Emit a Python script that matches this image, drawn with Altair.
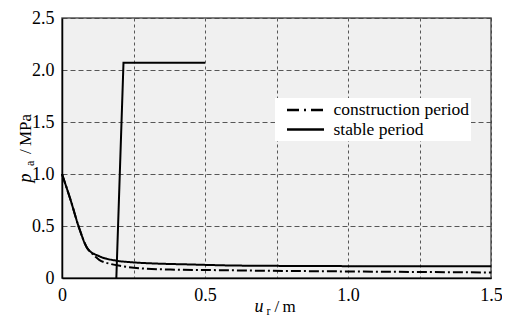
import altair as alt
import pandas as pd

# ---- data ----
cons_x = [0, 0.03, 0.06, 0.09, 0.10, 0.13, 0.17, 0.21, 0.29, 0.40, 0.50, 0.70, 1.00, 1.25, 1.50]
cons_y = [1.0, 0.75, 0.48, 0.28, 0.25, 0.175, 0.135, 0.114, 0.09, 0.08, 0.077, 0.07, 0.063, 0.058, 0.053]

stable_x = [0, 0.03, 0.06, 0.09, 0.13, 0.19, 0.25, 0.32, 0.45, 0.60, 0.80, 1.00, 1.25, 1.50]
stable_y = [1.0, 0.75, 0.48, 0.28, 0.21, 0.167, 0.15, 0.14, 0.13, 0.12, 0.116, 0.114, 0.112, 0.112]

jump_x = [0.19, 0.215, 0.50]
jump_y = [0.0, 2.07, 2.07]

series_names = ["construction period", "stable period"]
x_ticks = [0, 0.25, 0.5, 0.75, 1.0, 1.25, 1.5]
y_ticks = [0, 0.25, 0.5, 0.75, 1.0, 1.25, 1.5, 1.75, 2.0, 2.25, 2.5]

curves = pd.DataFrame({
    "x": cons_x + stable_x,
    "y": cons_y + stable_y,
    "series": [series_names[0]] * len(cons_x) + [series_names[1]] * len(stable_x),
})
jump = pd.DataFrame({"x": jump_x, "y": jump_y, "series": [series_names[1]] * len(jump_x)})

FONT = "Times New Roman"
label_expr = "datum.value == 0 ? '0' : (abs(datum.value*2 - round(datum.value*2)) < 1e-6 ? format(datum.value, '.1f') : '')"

x_enc = alt.X("x:Q", scale=alt.Scale(domain=[0, 1.5], nice=False),
              axis=alt.Axis(values=x_ticks, labelExpr=label_expr, title=None, ticks=False,
                            labelFlush=False, labelOverlap=False,
                            labelPadding=8, gridDash=[3, 3], gridColor="#444", gridWidth=0.9,
                            domainColor="black", domainWidth=1.5))
y_enc = alt.Y("y:Q", scale=alt.Scale(domain=[0, 2.5], nice=False),
              axis=alt.Axis(values=y_ticks, labelExpr=label_expr, title=None, ticks=False,
                            labelFlush=False, labelOverlap=False,
                            labelPadding=8, gridDash=[5, 3], gridColor="#444", gridWidth=0.9,
                            domainColor="black", domainWidth=1.5))
dash_scale = alt.Scale(domain=series_names, range=[[10, 3, 2, 3], [1, 0]])

curve_layer = alt.Chart(curves).mark_line(color="black", strokeWidth=2, interpolate="monotone").encode(
    x=x_enc, y=y_enc,
    strokeDash=alt.StrokeDash("series:N", scale=dash_scale, legend=None),
)
jump_layer = alt.Chart(jump).mark_line(color="black", strokeWidth=2).encode(
    x="x:Q", y="y:Q", strokeDash=alt.StrokeDash("series:N", scale=dash_scale, legend=None)
)

def txt(s, x, y, size, style="normal", angle=0, baseline="alphabetic", font=FONT):
    return alt.Chart(pd.DataFrame({"t": [s]})).mark_text(
        font=font, fontSize=size, fontStyle=style, align="left", baseline=baseline,
        angle=angle, color="black"
    ).encode(text="t:N", x=alt.value(x), y=alt.value(y))

# manual legend (plot origin at page (62, 18))
legend_box = alt.Chart(pd.DataFrame({"a": [0]})).mark_rect(fill="white").encode(
    x=alt.value(213), x2=alt.value(409), y=alt.value(80), y2=alt.value(123))
legend_sym1 = alt.Chart(pd.DataFrame({"a": [0]})).mark_rule(
    color="black", strokeWidth=2.5, strokeDash=[12, 5, 2, 5]).encode(
    x=alt.value(225), x2=alt.value(262), y=alt.value(92))
legend_sym2 = alt.Chart(pd.DataFrame({"a": [0]})).mark_rule(
    color="black", strokeWidth=2.5).encode(
    x=alt.value(225), x2=alt.value(262), y=alt.value(111.5))
legend_txt1 = txt(series_names[0], 271.5, 92, 17.5, baseline="middle")
legend_txt2 = txt(series_names[1], 271.5, 111.5, 17.5, baseline="middle")

titles = [
    txt("u", 192.5, 294, 18, "italic"),
    txt("r", 204.5, 296.5, 12),
    txt("/", 212.5, 294, 17),
    txt("m", 220.5, 294, 17),
    txt("p", -31, 164.5, 18, "italic", 270),
    txt("a", -28.5, 148, 12, "normal", 270),
    txt("/", -31, 136, 17, "normal", 270),
    txt("MPa", -31, 128, 17, "normal", 270),
]

chart = alt.layer(curve_layer, jump_layer, legend_box, legend_sym1, legend_sym2,
                  legend_txt1, legend_txt2, *titles).properties(
    width=429, height=260,
    autosize=alt.AutoSizeParams(type="none"),
    padding={"left": 54, "top": 10, "right": 11, "bottom": 42},
).configure_view(
    fill="#f0f0f0", stroke="#555", strokeWidth=1.5
).configure_axis(
    labelFont=FONT, labelFontSize=18, labelColor="black"
)

chart.save("out.html", embed_options={"renderer": "svg", "actions": False})
